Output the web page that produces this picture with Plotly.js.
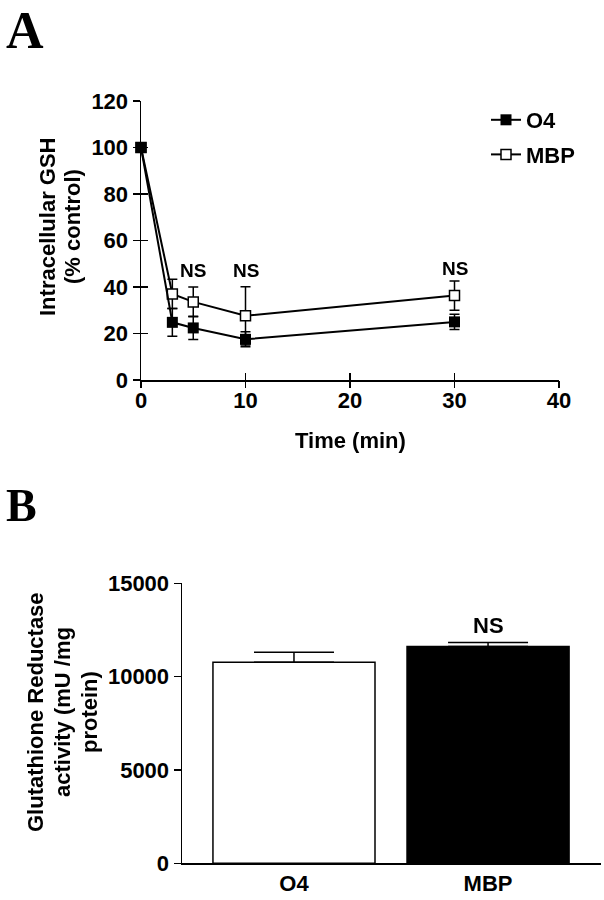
<!DOCTYPE html>
<html>
<head>
<meta charset="utf-8">
<script src="https://cdn.plot.ly/plotly-3.0.1.min.js"></script>
<style>html,body{margin:0;padding:0;background:#fff;}#chart{width:604px;height:900px;}</style>
</head>
<body>
<div id="chart"></div>
<script>
// Panel A data
const timeMin = [0, 3, 5, 10, 30];
const o4Gsh = [100, 24.8, 22.4, 17.5, 25];
const o4GshErr = [0, 6, 5, 3.2, 3.3];
const mbpGsh = [100, 37, 33.6, 27.6, 36.3];
const mbpGshErr = [0, 6.3, 6.4, 12.5, 6.3];
const nsTimes = [5, 10, 30];
const nsLevels = [47, 47, 48];
const xTicksA = [0, 10, 20, 30, 40];
const yTicksA = [0, 20, 40, 60, 80, 100, 120];

// Panel B data
const groups = ["O4", "MBP"];
const grActivity = [10770, 11610];
const grActivityErr = [535, 215];
const yTicksB = [0, 5000, 10000, 15000];

const F = "Liberation Sans, Arial, Helvetica, sans-serif";
const bold = (s) => ({family: F, size: s, color: "#000", weight: "bold"});

const traces = [
  {
    x: timeMin, y: mbpGsh, name: "MBP", type: "scatter", mode: "lines+markers",
    xaxis: "x", yaxis: "y", cliponaxis: false, legendgroup: "b", legendrank: 2,
    line: {color: "#000", width: 2},
    marker: {symbol: "square", size: 10, color: "#fff", line: {color: "#000", width: 1.5}},
    error_y: {type: "data", array: mbpGshErr, visible: true, color: "#000", thickness: 1.5, width: 5}
  },
  {
    x: timeMin, y: o4Gsh, name: "O4", type: "scatter", mode: "lines+markers",
    xaxis: "x", yaxis: "y", cliponaxis: false, legendgroup: "a", legendrank: 1,
    line: {color: "#000", width: 2},
    marker: {symbol: "square", size: 11, color: "#000", line: {color: "#000", width: 0}},
    error_y: {type: "data", array: o4GshErr, visible: true, color: "#000", thickness: 1.5, width: 5}
  },
  {
    // invisible copy so the second tick-axis pair of panel A is built
    x: timeMin, y: o4Gsh, xaxis: "x3", yaxis: "y3", type: "scatter", mode: "markers",
    opacity: 0, showlegend: false, hoverinfo: "skip"
  },
  {
    x: groups, y: grActivity, type: "bar", xaxis: "x2", yaxis: "y2", showlegend: false,
    width: 0.835,
    marker: {color: ["#fff", "#000"], line: {color: "#000", width: 1.5}},
    error_y: {type: "data", symmetric: false, array: grActivityErr, arrayminus: [0, 0],
              visible: true, color: "#000", thickness: 1.5, width: 40}
  }
];

const W = 604, H = 900;
const px = (v) => v / W;
const py = (v) => 1 - v / H;

const annotations = [];
nsTimes.forEach((t, i) => annotations.push({
  x: t, y: nsLevels[i], xref: "x", yref: "y", text: "NS", showarrow: false,
  font: bold(19), xanchor: "center", yanchor: "middle"
}));
annotations.push({x: groups[1], y: 12750, xref: "x2", yref: "y2", text: "NS", showarrow: false,
  font: bold(22), xanchor: "center", yanchor: "middle"});
// Axis titles
annotations.push({x: px(47), y: py(227), xref: "paper", yref: "paper", text: "Intracellular GSH",
  textangle: -90, showarrow: false, font: bold(22), xanchor: "center", yanchor: "middle"});
annotations.push({x: px(72), y: py(227), xref: "paper", yref: "paper", text: "(% control)",
  textangle: -90, showarrow: false, font: bold(22), xanchor: "center", yanchor: "middle"});
annotations.push({x: px(350), y: py(440), xref: "paper", yref: "paper", text: "Time (min)",
  showarrow: false, font: bold(22), xanchor: "center", yanchor: "middle"});
annotations.push({x: px(35), y: py(712), xref: "paper", yref: "paper", text: "Glutathione Reductase",
  textangle: -90, showarrow: false, font: bold(22), xanchor: "center", yanchor: "middle"});
annotations.push({x: px(62), y: py(712), xref: "paper", yref: "paper", text: "activity (mU /mg",
  textangle: -90, showarrow: false, font: bold(22), xanchor: "center", yanchor: "middle"});
annotations.push({x: px(89), y: py(712), xref: "paper", yref: "paper", text: "protein)",
  textangle: -90, showarrow: false, font: bold(22), xanchor: "center", yanchor: "middle"});
// Panel letters
annotations.push({x: px(4), y: 1, xref: "paper", yref: "paper", text: "A", showarrow: false,
  font: {family: "Liberation Serif, Times New Roman, serif", size: 52, color: "#000", weight: "bold"},
  xanchor: "left", yanchor: "top"});
annotations.push({x: px(4), y: py(478), xref: "paper", yref: "paper", text: "B", showarrow: false,
  font: {family: "Liberation Serif, Times New Roman, serif", size: 46, color: "#000", weight: "bold"},
  xanchor: "left", yanchor: "top"});

const axBase = {showgrid: false, zeroline: false, showline: true, linecolor: "#000", linewidth: 1.5,
  tickcolor: "#000", tickwidth: 1.5, ticklen: 7, tickfont: bold(22), fixedrange: true};

const domXA = [px(141), px(559)];
const domYA = [py(380), py(101)];

const layout = {
  width: W, height: H, margin: {l: 0, r: 0, t: 0, b: 0}, paper_bgcolor: "#fff", plot_bgcolor: "rgba(0,0,0,0)",
  showlegend: true,
  legend: {x: px(486), y: py(99), xanchor: "left", yanchor: "top", traceorder: "grouped",
    font: bold(22), bgcolor: "rgba(0,0,0,0)", itemwidth: 30, tracegroupgap: 3},
  xaxis: Object.assign({}, axBase, {domain: domXA, range: [0, 40], tickvals: xTicksA,
    ticks: "inside", ticklabelstandoff: 0, anchor: "y"}),
  yaxis: Object.assign({}, axBase, {domain: domYA, range: [0, 120], tickvals: yTicksA,
    ticks: "outside", anchor: "x"}),
  xaxis3: Object.assign({}, axBase, {domain: domXA, anchor: "y3", range: [0, 40], tickvals: xTicksA,
    ticks: "outside", showticklabels: false, showline: false}),
  yaxis3: Object.assign({}, axBase, {domain: domYA, anchor: "x3", range: [0, 120], tickvals: yTicksA,
    ticks: "inside", showticklabels: false, showline: false}),
  xaxis2: Object.assign({}, axBase, {domain: [px(182), px(601)], range: [-0.577, 1.582], type: "category",
    ticks: "", anchor: "y2"}),
  yaxis2: Object.assign({}, axBase, {domain: [py(863.3), py(583.3)], range: [0, 15000], tickvals: yTicksB,
    tickformat: "d", ticks: "outside", anchor: "x2"}),
  annotations: annotations
};

Plotly.newPlot("chart", traces, layout, {staticPlot: true, displayModeBar: false});
</script>
</body>
</html>
